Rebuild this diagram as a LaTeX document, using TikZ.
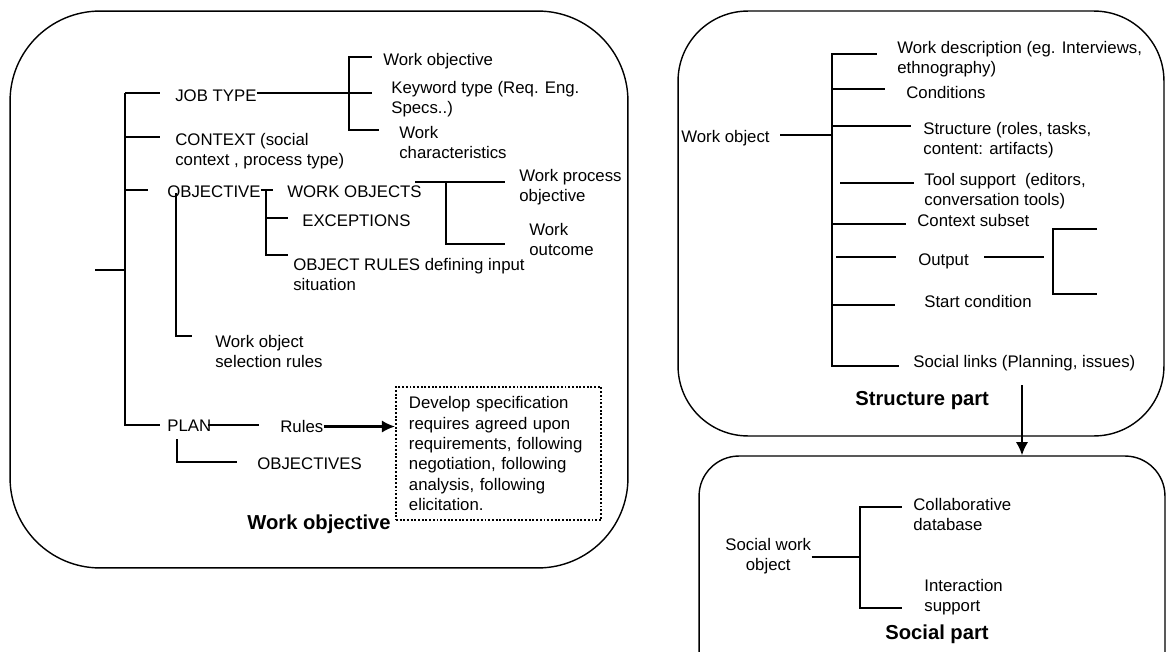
\documentclass[tikz,border=0pt]{standalone}
\usepackage{fontspec}
\setmainfont{Liberation Sans}
\usepackage{tikz}
\usetikzlibrary{arrows.meta, calc}
\newcommand{\lblfont}{\fontsize{9.55}{11.6}\selectfont}
\newcommand{\ttlfont}{\fontsize{11.5}{13}\selectfont\bfseries}
\tikzstyle{part} = [rectangle, draw=black, line width=0.8pt]
\tikzstyle{lbl} = [anchor=north west, inner sep=0pt, align=left, font=\lblfont]
\tikzstyle{ttl} = [anchor=north west, inner sep=0pt, font=\ttlfont]
\tikzstyle{spec} = [rectangle, draw=black, densely dotted, line width=1.1pt, anchor=north west, text width=3.58cm, inner xsep=0.26cm, inner ysep=0.19cm, align=left, font=\lblfont]
\tikzstyle{link} = [line width=0.6pt]
\tikzstyle{arrow} = [line width=1.2pt,-{Latex[length=7.5pt,width=7pt]}]

\begin{document}
\begin{tikzpicture}[x=0.02cm, y=-0.02cm]
	\clip (0,0) rectangle (1166,652);
	\node (wobox) [part, rounded corners=1.8cm, minimum width=12.36cm, minimum height=11.14cm] at (319,289.5) {};
	\node (strbox) [part, rounded corners=1.4cm, minimum width=9.72cm, minimum height=8.5cm] at (921,223.5) {};
	\node (socbox) [part, rounded corners=0.8cm, minimum width=9.32cm, minimum height=4.88cm] at (932,578) {};

	\node (jt) [lbl] at (175,89) {JOB TYPE};
	\node (ctx) [lbl] at (175,133) {CONTEXT (social\\context , process type)};
	\node (obj) [lbl] at (167,185) {OBJECTIVE};
	\node (plan) [lbl] at (167,420) {PLAN};
	\node (wo) [lbl] at (383,53) {Work objective};
	\node (kw) [lbl] at (391,81) {Keyword type (Req. Eng.\\Specs..)};
	\node (wc) [lbl] at (399,126) {Work\\characteristics};
	\node (wobj) [lbl] at (287,185) {WORK OBJECTS};
	\node (exc) [lbl] at (302,214) {EXCEPTIONS};
	\node (orules) [lbl] at (293,258) {OBJECT RULES defining input\\situation};
	\node (wpo) [lbl] at (519,169) {Work process\\objective};
	\node (wout) [lbl] at (529,223) {Work\\outcome};
	\node (sel) [lbl] at (215,335) {Work object\\selection rules};
	\node (rules) [lbl] at (280,420) {Rules};
	\node (objs) [lbl] at (257,457) {OBJECTIVES};
	\node (dev) [spec] at (395,386) {Develop specification\\requires agreed upon\\requirements, following\\negotiation, following\\analysis, following\\elicitation.};
	\node (wobt) [ttl] at (247,515) {Work objective};

	\coordinate (lroot) at (95,270);
	\coordinate (lsp) at (125,93);
	\coordinate (jsp) at (349,93);
	\coordinate (osp) at (266,190);
	\coordinate (wsp) at (446,182);

	\draw [link] (lroot) -- (lroot -| lsp);
	\draw [link] (lsp) |- ([shift={(-15,4)}]jt.north west);
	\draw [link] (lsp) |- ([shift={(-15,4)}]ctx.north west);
	\draw [link] (lsp) |- ([shift={(-19,5)}]obj.north west);
	\draw [link] (lsp) |- ([shift={(-7,5)}]plan.north west);
	\draw [link] (jt.east |- jsp) -- ([shift={(-19,12)}]kw.north west);
	\draw [link] (jsp) |- ([shift={(-11,4)}]wo.north west);
	\draw [link] (jsp) |- ([shift={(-20,4)}]wc.north west);
	\draw [link] (obj.east |- osp) -- ([shift={(-14,5)}]wobj.north west);
	\draw [link] (osp) |- ([shift={(-14,4)}]exc.north west);
	\draw [link] (osp) |- ([shift={(-5,-3)}]orules.north west);
	\draw [link] ([shift={(9,8)}]obj.north west) |- ([shift={(-23,1)}]sel.north west);
	\draw [link] ($(wsp)+(-31,0)$) -- ([shift={(-14,13)}]wpo.north west);
	\draw [link] (wsp) |- ([shift={(-24,21)}]wout.north west);
	\draw [link] ([shift={(41,5)}]plan.north west) -- ([shift={(-21,5)}]rules.north west);
	\draw [link] ([shift={(10,19)}]plan.north west) |- ([shift={(-20,5)}]objs.north west);
	\draw [arrow] (rules.east) -- (rules.east -| dev.west);

	\node (wobr) [lbl] at (681,130) {Work object};
	\node (wdesc) [lbl] at (897,41) {Work description (eg. Interviews,\\ethnography)};
	\node (cond) [lbl] at (906,86) {Conditions};
	\node (struc) [lbl] at (923,122) {Structure (roles, tasks,\\content: artifacts)};
	\node (tool) [lbl] at (924,173) {Tool support~ (editors,\\conversation tools)};
	\node (csub) [lbl] at (917,214) {Context subset};
	\node (outp) [lbl] at (918,253) {Output};
	\node (start) [lbl] at (924,295) {Start condition};
	\node (soc) [lbl] at (913,355) {Social links (Planning, issues)};
	\node (structt) [ttl] at (855,391) {Structure part};

	\coordinate (rsp) at (832,135);
	\coordinate (osb1) at (1097,229);
	\coordinate (osb2) at (1097,294);
	\coordinate (sarr) at (1022,385);

	\draw [link] (rsp) -- ([shift={(10,5)}]wobr.north east);
	\draw [link] (rsp) |- ([shift={(-20,13)}]wdesc.north west);
	\draw [link] (rsp) |- ([shift={(-21,3)}]cond.north west);
	\draw [link] (rsp) |- ([shift={(-12,4)}]struc.north west);
	\draw [link] ([shift={(-84,10)}]tool.north west) -- ([shift={(-10,10)}]tool.north west);
	\draw [link] (rsp) |- ([shift={(-11,10)}]csub.north west);
	\draw [link] ([shift={(-82,4)}]outp.north west) -- ([shift={(-22,4)}]outp.north west);
	\draw [link] ([shift={(15,4)}]outp.north east) -- ([shift={(75,4)}]outp.north east);
	\draw [link] (osb1) -| ($(osb2)+(-44,0)$) -- (osb2);
	\draw [link] (rsp) |- ([shift={(-29,10)}]start.north west);
	\draw [link] (rsp) |- ([shift={(-14,11)}]soc.north west);
	\draw [arrow] (sarr) -- (sarr |- socbox.north);

	\node (swo) [lbl, align=center] at (725,538) {Social work\\object};
	\node (collab) [lbl] at (913,498) {Collaborative\\database};
	\node (inter) [lbl] at (924,579) {Interaction\\support};
	\node (socialt) [ttl] at (885,625) {Social part};

	\coordinate (ssp) at (860,557);

	\draw [link] (swo.east |- ssp) -- (ssp);
	\draw [link] (ssp) |- ([shift={(-11,9)}]collab.north west);
	\draw [link] (ssp) |- ([shift={(-22,29)}]inter.north west);
\end{tikzpicture}
\end{document}
